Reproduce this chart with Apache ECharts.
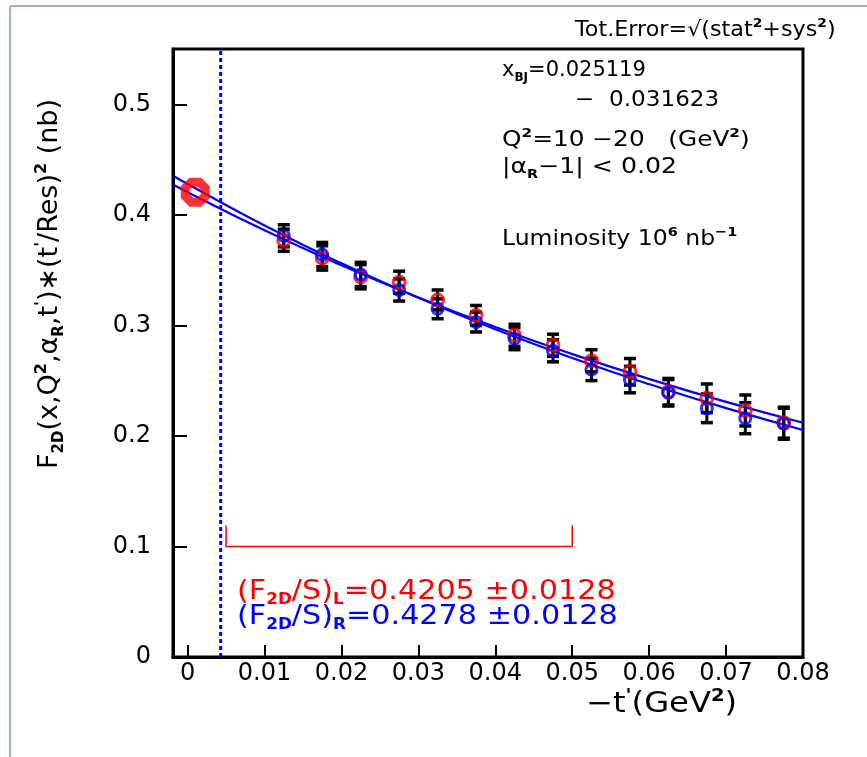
<!DOCTYPE html>
<html>
<head>
<meta charset="utf-8">
<script src="https://cdn.jsdelivr.net/npm/echarts@6/dist/echarts.min.js"></script>
<style>
html,body{margin:0;padding:0;background:#fff;}
#chart{width:867px;height:757px;}
</style>
</head>
<body>
<div id="chart"></div>
<script>
// ---- data ----
const tVals = [0.0125, 0.0175, 0.0225, 0.0275, 0.0325, 0.0375, 0.0425, 0.0475, 0.0525, 0.0575, 0.0625, 0.0675, 0.0725, 0.0775];
const f2dL = [0.377, 0.361, 0.344, 0.339, 0.323, 0.309, 0.291, 0.282, 0.268, 0.258, 0.240, 0.234, 0.223, 0.212];
const f2dR = [0.381, 0.364, 0.346, 0.332, 0.315, 0.303, 0.288, 0.277, 0.260, 0.251, 0.239, 0.225, 0.216, 0.211];
const errL = [0.010, 0.011, 0.011, 0.010, 0.009, 0.009, 0.010, 0.010, 0.010, 0.012, 0.012, 0.013, 0.014, 0.014];
const errR = [0.010, 0.011, 0.011, 0.010, 0.009, 0.009, 0.010, 0.010, 0.010, 0.012, 0.012, 0.013, 0.014, 0.014];

const fitX = [-0.0019, 0, 0.01, 0.02, 0.03, 0.04, 0.05, 0.06, 0.07, 0.08];
const fitL = [0.4274, 0.4205, 0.3860, 0.3543, 0.3252, 0.2985, 0.2740, 0.2515, 0.2308, 0.2119];
const fitR = [0.4353, 0.4278, 0.3903, 0.3561, 0.3249, 0.2964, 0.2705, 0.2468, 0.2251, 0.2054];

const interceptX = [0.001];
const interceptY = [0.4205];

const cutX = [0.0043, 0.0043];
const cutY = [0, 0.55];

const bracketX = [0.005, 0.005, 0.05, 0.05];
const bracketY = [0.119, 0.1, 0.1, 0.119];

const xTickValues = [0, 0.01, 0.02, 0.03, 0.04, 0.05, 0.06, 0.07, 0.08];
const xTickLabels = ['0', '0.01', '0.02', '0.03', '0.04', '0.05', '0.06', '0.07', '0.08'];
const yTickValues = [0, 0.1, 0.2, 0.3, 0.4, 0.5];
const yTickLabels = ['0', '0.1', '0.2', '0.3', '0.4', '0.5'];

// ---- helpers ----
const FONT = 'DejaVu Sans';
const pairs = (xs, ys) => xs.map((x, i) => [x, ys[i]]);
const triples = (xs, ys, es) => xs.map((x, i) => [x, ys[i], es[i]]);

function errRender(params, api) {
  const x = api.value(0), y = api.value(1), e = api.value(2);
  const top = api.coord([x, y + e]);
  const bot = api.coord([x, y - e]);
  const hw = 6;
  const st = { stroke: '#000', lineWidth: 3.5 };
  return {
    type: 'group',
    children: [
      { type: 'line', shape: { x1: top[0], y1: top[1], x2: bot[0], y2: bot[1] }, style: { stroke: '#000', lineWidth: 3 } },
      { type: 'line', shape: { x1: top[0] - hw, y1: top[1], x2: top[0] + hw, y2: top[1] }, style: st },
      { type: 'line', shape: { x1: bot[0] - hw, y1: bot[1], x2: bot[0] + hw, y2: bot[1] }, style: st }
    ]
  };
}

function richStyles(size, color) {
  return {
    n: { fontSize: size, fontFamily: FONT, color: color, lineHeight: size + 6, verticalAlign: 'middle' },
    s: { fontSize: Math.round(size * 0.55), fontFamily: FONT, color: color, fontWeight: 'bold', lineHeight: 10, verticalAlign: 'bottom' },
    p: { fontSize: Math.round(size * 0.6), fontFamily: FONT, color: color, fontWeight: 'bold', lineHeight: 12, verticalAlign: 'top' }
  };
}

function txt(left, top, text, size, color, sx) {
  return {
    type: 'text', left: left, top: top, z: 50, scaleX: sx || 1, scaleY: 1,
    style: { text: text, fill: color, font: size + 'px "' + FONT + '"', rich: richStyles(size, color) }
  };
}

const chart = echarts.init(document.getElementById('chart'), null, { renderer: 'canvas' });

const option = {
  animation: false,
  backgroundColor: '#fff',
  grid: { left: 173, top: 49, right: 64, bottom: 100, show: true, borderColor: '#000', borderWidth: 3, backgroundColor: 'transparent' },
  xAxis: {
    type: 'value', min: -0.0019, max: 0.08,
    axisLine: { show: true, onZero: false, lineStyle: { color: '#000', width: 3 } },
    axisTick: { show: true, inside: true, length: 12, customValues: xTickValues, lineStyle: { color: '#000', width: 2 } },
    axisLabel: {
      customValues: xTickValues, margin: 5, color: '#000', fontSize: 24, fontFamily: FONT,
      formatter: (v) => { const i = xTickValues.findIndex(t => Math.abs(t - v) < 1e-9); return i >= 0 ? xTickLabels[i] : ''; }
    },
    splitLine: { show: false }
  },
  yAxis: {
    type: 'value', min: 0, max: 0.55,
    axisLine: { show: true, onZero: false, lineStyle: { color: '#000', width: 3 } },
    axisTick: { show: true, inside: true, length: 14, customValues: yTickValues, lineStyle: { color: '#000', width: 2 } },
    axisLabel: {
      customValues: yTickValues, margin: 22, color: '#000', fontSize: 24, fontFamily: FONT,
      formatter: (v) => { const i = yTickValues.findIndex(t => Math.abs(t - v) < 1e-9); return i >= 0 ? yTickLabels[i] : ''; }
    },
    splitLine: { show: false }
  },
  graphic: [
    { type: 'line', shape: { x1: 10, y1: 6, x2: 867, y2: 6 }, style: { stroke: '#6f98d8', lineWidth: 1.5 } },
    { type: 'line', shape: { x1: 10, y1: 6, x2: 10, y2: 757 }, style: { stroke: '#6f98d8', lineWidth: 1.5 } },
    {
      type: 'text', x: 50, y: 284, rotation: Math.PI / 2, z: 50,
      style: {
        text: '{n|F}{s|2D}{n|(x,Q}{p|2}{n|,α}{s|R}{n|,t}{p|\'}{n|)∗(t}{p|\'}{n|/Res)}{p|2}{n| (nb)}',
        align: 'center', verticalAlign: 'middle', fill: '#000', font: '27px "' + FONT + '"', rich: richStyles(27, '#000')
      }
    },
    txt(575, 17, '{n|Tot.Error=√(stat}{p|2}{n|+sys}{p|2}{n|)}', 21, '#000', 1.06),
    txt(502, 60, '{n|x}{s|BJ}{n|=0.025119}', 21, '#000', 1.0),
    txt(575, 90, '{n|−  0.031623}', 21, '#000', 1.1),
    txt(502, 127, '{n|Q}{p|2}{n|=10 −20   (GeV}{p|2}{n|)}', 21, '#000', 1.18),
    txt(502, 157, '{n||α}{s|R}{n|−1| < 0.02}', 21, '#000', 1.2),
    txt(502, 226, '{n|Luminosity 10}{p|6}{n| nb}{p|−1}', 21, '#000', 1.12),
    txt(237, 578, '{n|(F}{s|2D}{n|/S)}{s|L}{n|=0.4205 ±0.0128}', 27, '#ff0000', 1.12),
    txt(237, 603, '{n|(F}{s|2D}{n|/S)}{s|R}{n|=0.4278 ±0.0128}', 27, '#0000ff', 1.12),
    txt(586, 688, '{n|−t}{p|\'}{n|(GeV}{p|2}{n|)}', 28, '#000', 1.15)
  ],
  series: [
    { type: 'custom', name: 'errL', renderItem: errRender, data: triples(tVals, f2dL, errL), z: 2, encode: { x: 0, y: [1] } },
    { type: 'custom', name: 'errR', renderItem: errRender, data: triples(tVals, f2dR, errR), z: 2, encode: { x: 0, y: [1] } },
    { type: 'line', name: 'fitL', data: pairs(fitX, fitL), smooth: true, showSymbol: false, symbol: 'none', lineStyle: { color: '#0000ff', width: 2.2 }, z: 3 },
    { type: 'line', name: 'fitR', data: pairs(fitX, fitR), smooth: true, showSymbol: false, symbol: 'none', lineStyle: { color: '#0000ff', width: 2.2 }, z: 3 },
    { type: 'scatter', name: 'L', data: pairs(tVals, f2dL), symbol: 'circle', symbolSize: 12, itemStyle: { color: 'rgba(0,0,0,0)', borderColor: '#ff0000', borderWidth: 3 }, z: 4 },
    { type: 'scatter', name: 'R', data: pairs(tVals, f2dR), symbol: 'circle', symbolSize: 11, itemStyle: { color: 'rgba(0,0,0,0)', borderColor: '#0000ff', borderWidth: 3 }, z: 5 },
    { type: 'line', name: 'cut', data: pairs(cutX, cutY), showSymbol: false, symbol: 'none', lineStyle: { color: '#0000ff', width: 3, type: [4, 3] }, z: 3 },
    { type: 'line', name: 'range', data: pairs(bracketX, bracketY), showSymbol: false, symbol: 'none', lineStyle: { color: '#ff0000', width: 1.5 }, z: 3 },
    { type: 'scatter', name: 'intercept', data: pairs(interceptX, interceptY), symbol: 'path://M30,0 L70,0 L100,30 L100,70 L70,100 L30,100 L0,70 L0,30 Z', symbolSize: 20, itemStyle: { color: 'rgba(0,0,0,0)', borderColor: '#ff0000', borderWidth: 9 }, z: 6 }
  ]
};
chart.setOption(option);
</script>
</body>
</html>
